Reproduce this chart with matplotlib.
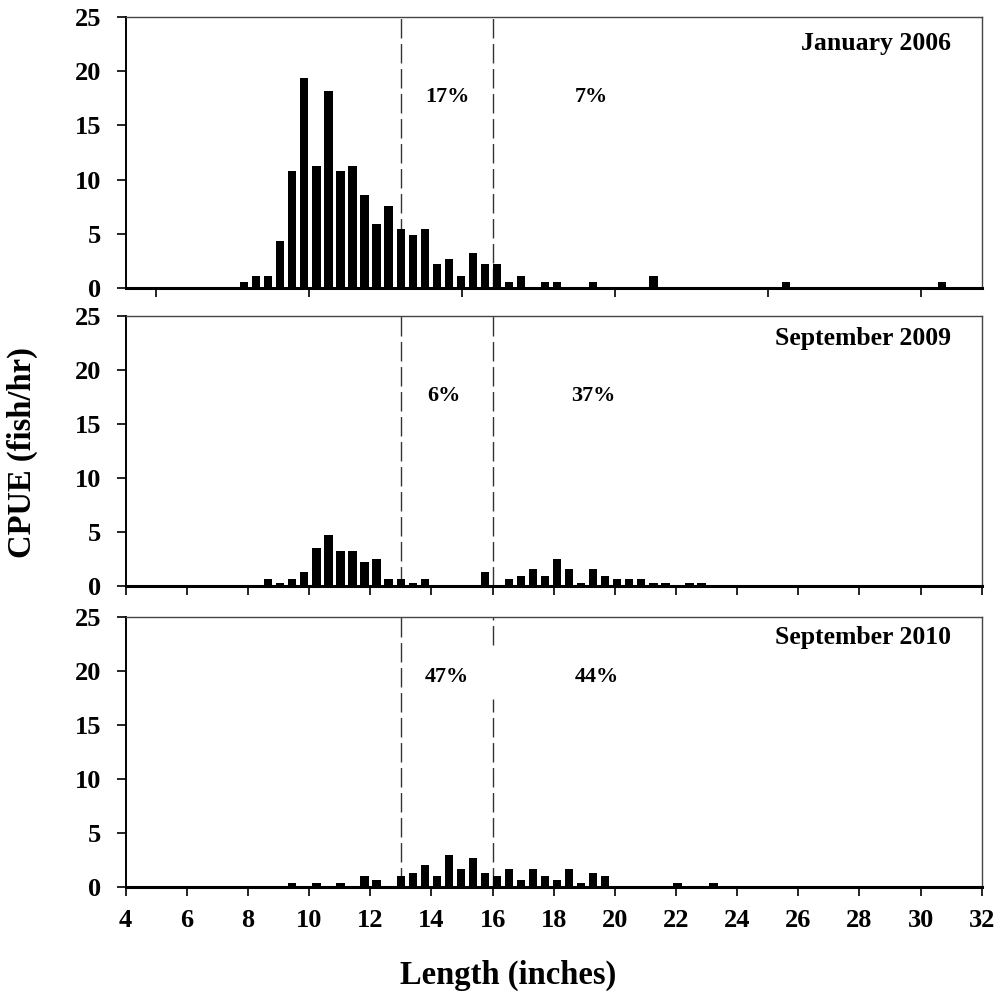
import matplotlib.pyplot as plt
import numpy as np

plt.rcParams['font.family'] = ['Liberation Serif', 'DejaVu Serif']
plt.rcParams['font.weight'] = 'bold'

# length bins (cm) and CPUE (fish/hr)
jan06_cm = [20, 21, 22, 23, 24, 25, 26, 27, 28, 29, 30, 31, 32, 33, 34, 35,
            36, 37, 38, 39, 40, 41, 42, 43, 45, 46, 49, 54, 65, 78]
jan06_cpue = [0.54, 1.08, 1.08, 4.32, 10.8, 19.4, 11.3, 18.2, 10.8, 11.3, 8.6,
              5.9, 7.55, 5.4, 4.86, 5.4, 2.16, 2.7, 1.08, 3.24, 2.16, 2.16,
              0.54, 1.08, 0.54, 0.54, 0.54, 1.08, 0.54, 0.54]

sep09_cm = [22, 23, 24, 25, 26, 27, 28, 29, 30, 31, 32, 33, 34, 35, 40, 42,
            43, 44, 45, 46, 47, 48, 49, 50, 51, 52, 53, 54, 55, 57, 58]
sep09_cpue = [0.65, 0.32, 0.65, 1.3, 3.5, 4.75, 3.2, 3.2, 2.25, 2.55, 0.65,
              0.65, 0.32, 0.65, 1.3, 0.65, 0.97, 1.6, 0.97, 2.55, 1.6, 0.32,
              1.6, 0.97, 0.65, 0.65, 0.65, 0.32, 0.32, 0.32, 0.32]

sep10_cm = [24, 26, 28, 30, 31, 33, 34, 35, 36, 37, 38, 39, 40, 41, 42, 43,
            44, 45, 46, 47, 48, 49, 50, 56, 59]
sep10_cpue = [0.33, 0.33, 0.33, 1.0, 0.67, 1.0, 1.33, 2.0, 1.0, 3.0, 1.67,
              2.67, 1.33, 1.0, 1.67, 0.67, 1.67, 1.0, 0.67, 1.67, 0.33, 1.33,
              1.0, 0.33, 0.33]

titles = ['January 2006', 'September 2009', 'September 2010']
pct_low = ['17%', '6%', '47%']
pct_high = ['7%', '37%', '44%']
slot_limits = [13, 16]

panels = [(jan06_cm, jan06_cpue), (sep09_cm, sep09_cpue), (sep10_cm, sep10_cpue)]

fig = plt.figure(figsize=(9.98, 9.96), dpi=100)

# axes boxes in figure fractions
boxes = [[0.126, 0.7111, 0.8577, 0.2715],
         [0.126, 0.4116, 0.8577, 0.2711],
         [0.126, 0.1094, 0.8577, 0.2708]]
title_y = [0.905, 0.918, 0.925]
pct_x = [(14.53, 19.22), (14.4, 19.29), (14.52, 19.42)]
pct_y = [0.706, 0.704, 0.778]

for i, (cm, cpue) in enumerate(panels):
    ax = fig.add_axes(boxes[i])
    inches = np.array(cm) / 2.54
    ax.bar(inches, cpue, width=0.27, color='black', zorder=3)

    ax.set_xlim(4, 32)
    ax.set_ylim(0, 25)
    ax.set_yticks(range(0, 26, 5))
    if i == 0:
        ax.set_xticks(range(5, 31, 5))
    else:
        ax.set_xticks(range(4, 33, 2))
    if i < 2:
        ax.set_xticklabels([])

    ax.tick_params(axis='both', direction='out', length=6.5, width=1.2,
                   labelsize=19, colors='black')
    ax.tick_params(axis='x', pad=9)
    ax.tick_params(axis='y', pad=11)
    for lab in ax.get_xticklabels() + ax.get_yticklabels():
        lab.set_fontweight('bold')

    ax.spines['bottom'].set_linewidth(2.2)
    ax.spines['left'].set_linewidth(1.4)
    ax.spines['top'].set_linewidth(1.0)
    ax.spines['right'].set_linewidth(1.0)
    ax.spines['top'].set_color('#444444')
    ax.spines['right'].set_color('#444444')

    # slot limit lines
    ax.plot([slot_limits[0]] * 2, [0, 25], color='#333333', lw=1.0,
            dashes=(14, 4), zorder=2)
    if i == 2:
        ax.plot([slot_limits[1]] * 2, [22.4, 25], color='#333333', lw=1.0,
                dashes=(14, 4), zorder=2)
        ax.plot([slot_limits[1]] * 2, [0, 17.4], color='#333333', lw=1.0,
                dashes=(14, 4), zorder=2)
    else:
        ax.plot([slot_limits[1]] * 2, [0, 25], color='#333333', lw=1.0,
                dashes=(14, 4), zorder=2)

    ax.text(0.964, title_y[i], titles[i], transform=ax.transAxes,
            ha='right', va='center', fontsize=18.5, fontweight='bold')
    ax.text(pct_x[i][0], pct_y[i] * 25, pct_low[i], ha='center', va='center',
            fontsize=16, fontweight='bold')
    ax.text(pct_x[i][1], pct_y[i] * 25, pct_high[i], ha='center', va='center',
            fontsize=16, fontweight='bold')

fig.text(0.022, 0.546, 'CPUE (fish/hr)', rotation=90, ha='center',
         va='center', fontsize=23.5, fontweight='bold')
fig.text(0.509, 0.021, 'Length (inches)', ha='center', va='center',
         fontsize=23.5, fontweight='bold')

fig.savefig('out.png', dpi=100)
